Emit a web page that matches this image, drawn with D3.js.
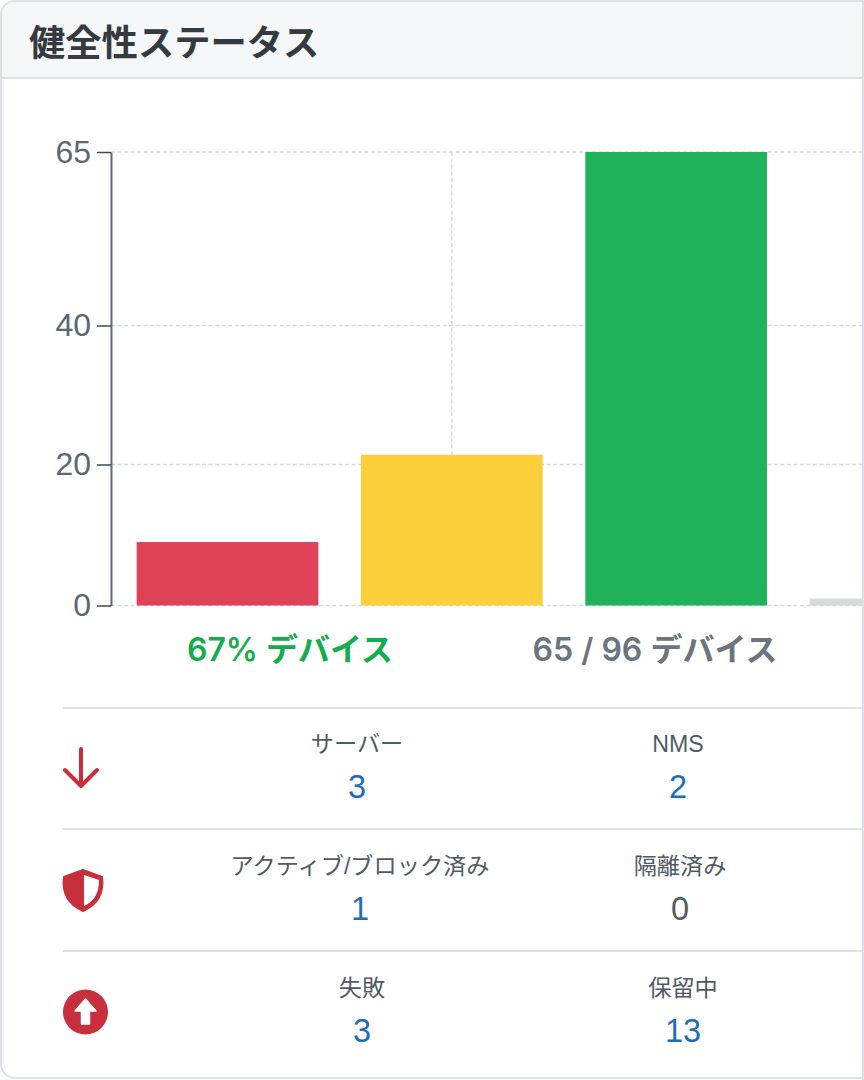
<!DOCTYPE html>
<html><head><meta charset="utf-8">
<script src="https://cdn.jsdelivr.net/npm/d3@7"></script>
<style>html,body{margin:0;padding:0;background:#fff}svg{display:block}
text{font-family:"Liberation Sans","Noto Sans CJK JP",sans-serif}</style></head>
<body><div id="c"></div>
<script>
const categories=["重大","警告","正常","不明"];
const deviceCounts=[9,21.4,65,1];
const barColors=["#df4156","#fdcf3b","#1fb25a","#d9dadd"];
const tickValues=[0,20,40,65];
const title="健全性ステータス";
const summaryLabels=["67% デバイス","65 / 96 デバイス"];
const summaryColors=["#13ad4f","#6c757d"];
const rowLabels=[["サーバー","NMS"],["アクティブ/ブロック済み","隔離済み"],["失敗","保留中"]];
const rowValues=[[3,2],[1,0],[3,13]];
const rowValueColors=[["#1f6eb5","#1f6eb5"],["#1f6eb5","#4f5b64"],["#1f6eb5","#1f6eb5"]];
const rowIcons=["down","shield","up"];

const svg=d3.select("#c").append("svg").attr("width",864).attr("height",1080);
const defs=svg.append("defs");
defs.append("clipPath").attr("id","plot").append("rect").attr("x",100).attr("y",100).attr("width",762).attr("height",520);

// card
svg.append("rect").attr("x",1).attr("y",1).attr("width",900).attr("height",1077).attr("rx",14)
  .attr("fill","#fff").attr("stroke","#dde1e7").attr("stroke-width",2);
svg.append("line").attr("x1",3).attr("x2",3).attr("y1",80).attr("y2",1064).attr("stroke","#eef1f4").attr("stroke-width",2);
svg.append("path").attr("d","M2 78V15a13 13 0 0 1 13-13H862V78Z").attr("fill","#f6f7f8");
svg.append("line").attr("x1",2).attr("x2",862).attr("y1",78).attr("y2",78).attr("stroke","#dde1e6").attr("stroke-width",2);
svg.append("line").attr("x1",863).attr("x2",863).attr("y1",0).attr("y2",1080).attr("stroke","#dde1e7").attr("stroke-width",2);
svg.append("text").attr("x",29).attr("y",56).attr("font-size",36.3).attr("font-weight",700).attr("fill","#343a40").text(title);

// chart
const y=d3.scaleLinear().domain(tickValues).range([605.5,464.5,325.5,152]);
const x=d3.scaleBand().domain(categories).range([112,1016]).paddingInner(0.19).paddingOuter(0.11);
const g=svg.append("g");
g.selectAll(".hg").data(tickValues).join("line").attr("x1",111).attr("x2",862)
  .attr("y1",d=>y(d)).attr("y2",d=>y(d)).attr("stroke","#d5d9e0").attr("stroke-width",1.4).attr("stroke-dasharray","4 2.5");
g.append("line").attr("x1",x(categories[1])+x.bandwidth()/2).attr("x2",x(categories[1])+x.bandwidth()/2)
  .attr("y1",y(65)).attr("y2",y(0)).attr("stroke","#d5d9e0").attr("stroke-width",1.4).attr("stroke-dasharray","4 2.5");
g.append("g").attr("clip-path","url(#plot)").selectAll("rect").data(categories).join("rect")
  .attr("x",d=>x(d)).attr("width",x.bandwidth()).attr("y",(d,i)=>y(deviceCounts[i]))
  .attr("height",(d,i)=>y(0)-y(deviceCounts[i])).attr("fill",(d,i)=>barColors[i]);
const ax=g.append("g").attr("transform","translate(111,0)")
  .call(d3.axisLeft(y).tickValues(tickValues).tickFormat(d3.format("d")).tickSize(14).tickSizeOuter(0).tickPadding(6));
ax.select(".domain").attr("stroke","#5f6b73").attr("stroke-width",2);
ax.selectAll(".tick line").attr("stroke","#3d4a52").attr("stroke-width",1.5);
ax.selectAll(".tick text").attr("font-size",32).attr("fill","#5c6770").attr("dx",0);

// summary labels
const sumX=[290,655];
svg.selectAll(".sum").data(summaryLabels).join("text").attr("class","sum")
  .attr("x",(d,i)=>sumX[i]).attr("y",661).attr("text-anchor","middle").attr("font-size",32).attr("font-weight",600)
  .style("font-family",'Inter,"Noto Sans CJK JP",sans-serif')
  .attr("fill",(d,i)=>summaryColors[i]).text(d=>d);

// rows
const sepY=[708,829,951];
const labelY=[752,874,996];
const valueY=[798,920,1042];
const colX=[[357,678],[360,680],[362,683]];
sepY.forEach((yy,i)=>{
  svg.append("line").attr("x1",63).attr("x2",862).attr("y1",yy).attr("y2",yy).attr("stroke","#dfe2e7").attr("stroke-width",2);
  rowLabels[i].forEach((t,j)=>{
    svg.append("text").attr("x",colX[i][j]).attr("y",labelY[i]).attr("text-anchor","middle").attr("font-size",23.2).attr("fill","#4f5b64").text(t);
    svg.append("text").attr("x",colX[i][j]).attr("y",valueY[i]).attr("text-anchor","middle").attr("font-size",32.5).attr("fill",rowValueColors[i][j]).text(rowValues[i][j]);
  });
});
const red="#c82f3c";
rowIcons.forEach(k=>{
  if(k==="down") svg.append("path").attr("d","M81 749V786M65 770L81 786L97 770").attr("fill","none").attr("stroke",red).attr("stroke-width",4).attr("stroke-linecap","round").attr("stroke-linejoin","round");
  if(k==="shield"){
    svg.append("path").attr("d","M83 870L102 877C104 892 99 904 83 911C67 904 62 892 64 877Z").attr("fill",red).attr("stroke",red).attr("stroke-width",2).attr("stroke-linejoin","round");
    svg.append("path").attr("d","M84 875L99 880C99 892 95 901 84 906Z").attr("fill","#fff");
  }
  if(k==="up"){
    svg.append("circle").attr("cx",85.5).attr("cy",1012).attr("r",22.5).attr("fill",red);
    svg.append("path").attr("d","M85.5 999L96 1011H89.5V1024H81.5V1011H75Z").attr("fill","#fff").attr("stroke","#fff").attr("stroke-width",1.5).attr("stroke-linejoin","round");
  }
});
</script></body></html>
